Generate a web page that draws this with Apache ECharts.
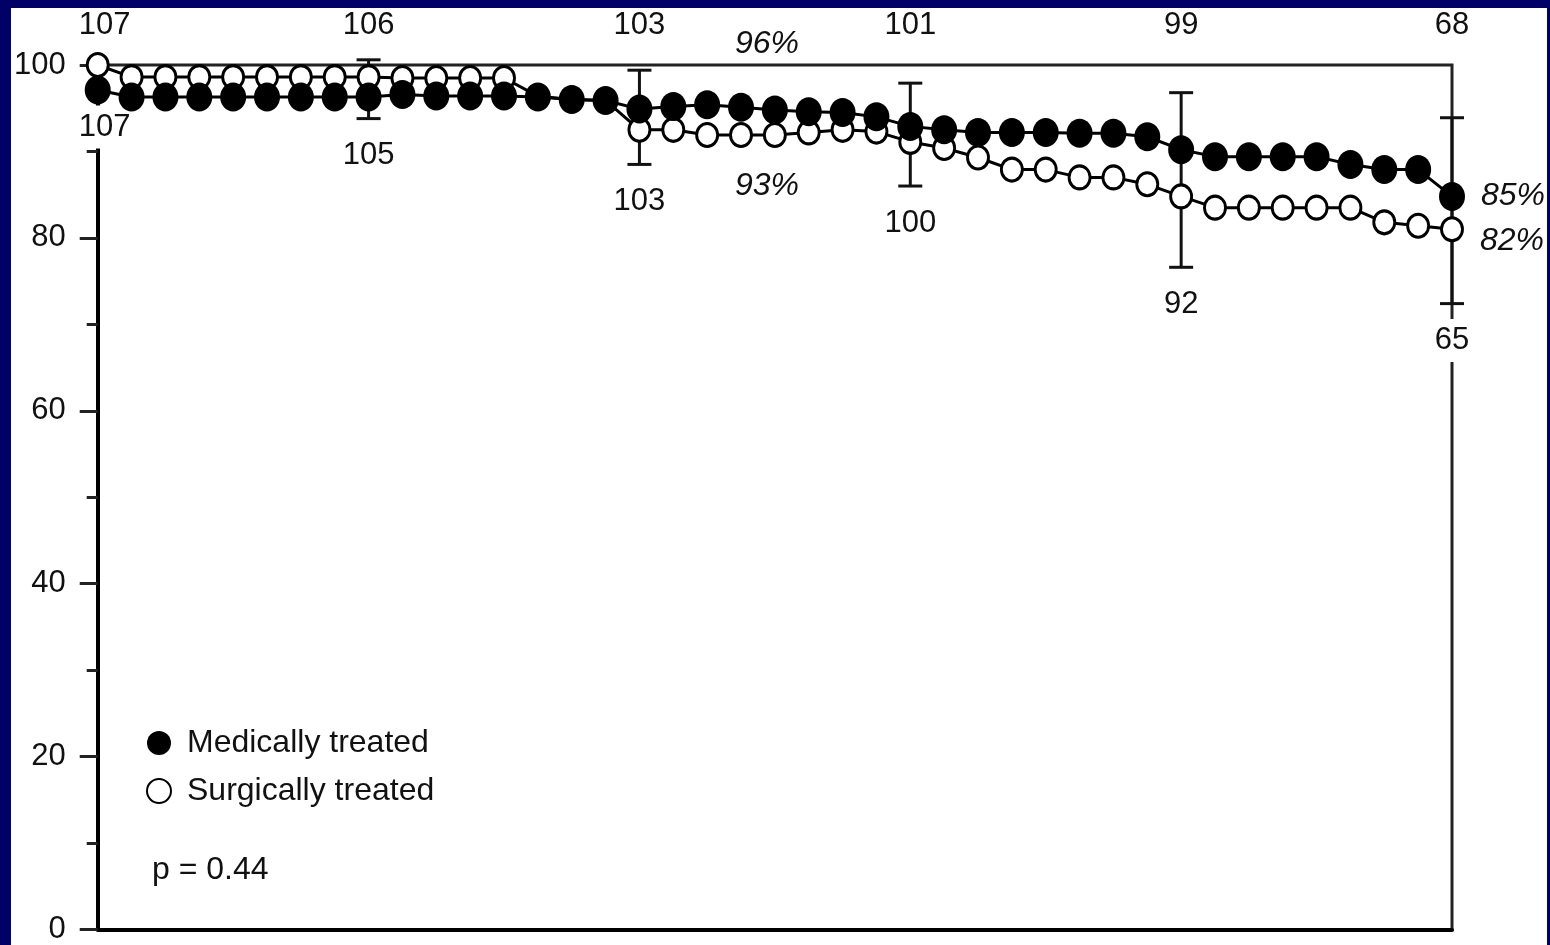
<!DOCTYPE html>
<html>
<head>
<meta charset="utf-8">
<script src="https://cdn.jsdelivr.net/npm/echarts@6/dist/echarts.min.js"></script>
<style>
html,body{margin:0;padding:0;background:#000066;width:1550px;height:945px;overflow:hidden;}
#chart{position:absolute;left:11px;top:8px;width:1536px;height:937px;background:#ffffff;}
</style>
</head>
<body>
<div id="chart"></div>
<script>
// ---- data ----
const timePoints = [0,1,2,3,4,5,6,7,8,9,10,11,12,13,14,15,16,17,18,19,20,21,22,23,24,25,26,27,28,29,30,31,32,33,34,35,36,37,38,39,40];
const medicallyTreated = [97.1,96.3,96.3,96.3,96.3,96.3,96.3,96.3,96.3,96.6,96.4,96.4,96.4,96.3,96.0,95.9,94.9,95.2,95.4,95.1,94.8,94.6,94.5,94.0,92.9,92.5,92.2,92.2,92.2,92.1,92.1,91.7,90.2,89.4,89.4,89.4,89.4,88.5,87.9,87.9,84.8];
const surgicallyTreated = [100.0,98.6,98.6,98.6,98.6,98.6,98.6,98.6,98.6,98.5,98.5,98.5,98.5,96.4,96.0,95.9,92.5,92.5,91.9,91.9,91.9,92.2,92.5,92.3,91.1,90.4,89.3,87.9,87.9,87.0,87.0,86.2,84.8,83.5,83.5,83.5,83.5,83.5,81.8,81.4,81.0];
const ciTimes = [0, 8, 16, 24, 32, 40];
const ciUpper = [97.1, 100.6, 99.4, 97.9, 96.8, 93.9];
const ciLower = [97.1, 93.8, 88.5, 86.0, 76.6, 72.4];
const atRiskMedical = [107, 106, 103, 101, 99, 68];
const atRiskSurgical = [107, 105, 103, 100, 92, 65];
const endLabels = ['85%', '82%'];
const midLabels = ['96%', '93%'];
const yTicks = [0, 20, 40, 60, 80, 100];
const seriesNames = ['Medically treated', 'Surgically treated'];
const pValueText = 'p = 0.44';

// ---- chart ----
const FONT = "'Liberation Sans', Arial, Helvetica, sans-serif";
const ellipse = 'path://M0,50 C0,22.4 22.4,0 50,0 C77.6,0 100,22.4 100,50 C100,77.6 77.6,100 50,100 C22.4,100 0,77.6 0,50 Z';
const chart = echarts.init(document.getElementById('chart'));

function lastLabel(text, offY) {
  return {
    show: true, position: 'right', distance: 16, formatter: text,
    offset: [0, offY], fontSize: 32, fontStyle: 'italic', color: '#111', fontFamily: FONT
  };
}

const medData = timePoints.map((t, i) => i === timePoints.length - 1
  ? { value: [t, medicallyTreated[i]], label: lastLabel(endLabels[0], 0) }
  : [t, medicallyTreated[i]]);
const surData = timePoints.map((t, i) => i === timePoints.length - 1
  ? { value: [t, surgicallyTreated[i]], label: lastLabel(endLabels[1], 12) }
  : [t, surgicallyTreated[i]]);
const ciData = ciTimes.map((t, i) => [t, ciLower[i], ciUpper[i], atRiskMedical[i], atRiskSurgical[i]]);

function renderCI(params, api) {
  const x = api.value(0), lo = api.value(1), hi = api.value(2);
  const pLo = api.coord([x, lo]);
  const pHi = api.coord([x, hi]);
  const cs = params.coordSys;
  const st = { stroke: '#111', lineWidth: 3 };
  const kids = [];
  if (hi !== lo) {
    kids.push({ type: 'line', shape: { x1: pLo[0], y1: pLo[1], x2: pHi[0], y2: pHi[1] }, style: st });
    kids.push({ type: 'line', shape: { x1: pHi[0] - 12, y1: pHi[1], x2: pHi[0] + 12, y2: pHi[1] }, style: st });
    kids.push({ type: 'line', shape: { x1: pLo[0] - 12, y1: pLo[1], x2: pLo[0] + 12, y2: pLo[1] }, style: st });
  }
  kids.push({ type: 'text', x: pHi[0] + (x === 0 ? 7 : 0), y: cs.y - 40,
    style: { text: String(api.value(3)), fill: '#111', fontSize: 31, fontFamily: FONT, align: 'center', verticalAlign: 'middle' } });
  kids.push({ type: 'text', x: pLo[0] + (x === 0 ? 7 : 0), y: pLo[1] + 37,
    style: { text: String(api.value(4)), fill: '#111', fontSize: 31, fontFamily: FONT, align: 'center', verticalAlign: 'middle',
      backgroundColor: '#fff', padding: [6, 4] } });
  return { type: 'group', children: kids };
}

chart.setOption({
  animation: false,
  backgroundColor: '#ffffff',
  grid: { left: 86, top: 57, width: 1355, height: 869, show: true, borderColor: '#222', borderWidth: 3, backgroundColor: 'transparent' },
  xAxis: {
    type: 'value', min: 0, max: 40,
    axisLine: { show: true, lineStyle: { color: '#000', width: 4 } },
    axisTick: { show: false }, axisLabel: { show: false }, splitLine: { show: false }
  },
  yAxis: {
    type: 'value', min: yTicks[0], max: yTicks[yTicks.length - 1], interval: yTicks[1] - yTicks[0],
    axisLine: { show: true, lineStyle: { color: '#000', width: 4 } },
    axisTick: { show: true, length: 18, lineStyle: { color: '#222', width: 3 } },
    minorTick: { show: true, splitNumber: 2, length: 11, lineStyle: { color: '#222', width: 3 } },
    splitLine: { show: false },
    axisLabel: { fontSize: 31, color: '#111', margin: 32, fontFamily: FONT }
  },
  legend: {
    left: 130, top: 714, orient: 'vertical', icon: 'circle',
    itemWidth: 24, itemHeight: 24, itemGap: 16, selectedMode: false,
    textStyle: { fontSize: 32, color: '#111', fontFamily: FONT, padding: [0, 0, 0, 11] },
    data: seriesNames
  },
  graphic: [
    { type: 'text', left: 724, top: 20, style: { text: midLabels[0], fontSize: 32, fontStyle: 'italic', fill: '#111', fontFamily: FONT } },
    { type: 'text', left: 724, top: 162, style: { text: midLabels[1], fontSize: 32, fontStyle: 'italic', fill: '#111', fontFamily: FONT } },
    { type: 'text', left: 141, top: 846, style: { text: pValueText, fontSize: 32, fill: '#111', fontFamily: FONT } }
  ],
  series: [
    {
      type: 'custom', name: 'ci', renderItem: renderCI, data: ciData, z: 1, clip: false, silent: true
    },
    {
      type: 'line', name: seriesNames[1], data: surData, z: 3,
      symbol: ellipse, symbolSize: [21, 23], showAllSymbol: true,
      itemStyle: { color: '#fff', borderColor: '#000', borderWidth: 3 },
      lineStyle: { color: '#000', width: 3 }, emphasis: { disabled: true }
    },
    {
      type: 'line', name: seriesNames[0], data: medData, z: 4,
      symbol: ellipse, symbolSize: [26, 29], showAllSymbol: true,
      itemStyle: { color: '#000', borderWidth: 0 },
      lineStyle: { color: '#000', width: 3 }, emphasis: { disabled: true }
    }
  ]
});
</script>
</body>
</html>
